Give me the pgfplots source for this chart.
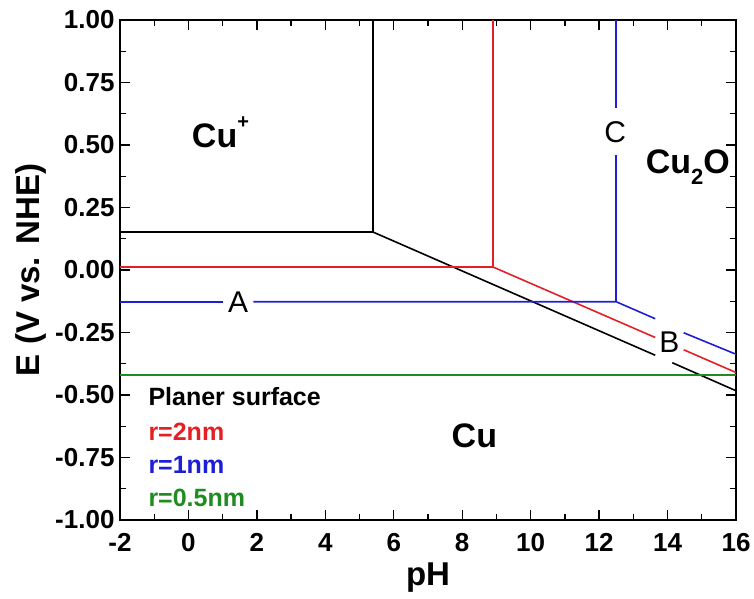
\documentclass[border=0pt]{standalone}
\usepackage{fontspec}
\setmainfont{Liberation Sans}
\usepackage{pgfplots}
\pgfplotsset{compat=1.18}

\definecolor{cred}{RGB}{228,32,36}
\definecolor{cblue}{RGB}{30,30,215}
\definecolor{cgreen}{RGB}{30,140,30}

\tikzset{
    region/.style = {font=\fontsize{34}{38}\selectfont\bfseries},
    mark lbl/.style = {font=\fontsize{30}{34}\selectfont},
    note/.style = {font=\fontsize{25}{29}\selectfont\bfseries, anchor=base west}
}

\begin{document}
\begin{tikzpicture}
\useasboundingbox (-120pt,-78pt) rectangle (634pt,520pt);
\begin{axis}[
    at={(0,0)}, anchor=south west,
    width=616pt, height=500pt, scale only axis,
    xmin=-2, xmax=16, ymin=-1, ymax=1,
    xtick={-2,0,2,4,6,8,10,12,14,16},
    xticklabels={-2,0,2,4,6,8,10,12,14,16},
    ytick={-1,-0.75,-0.5,-0.25,0,0.25,0.5,0.75,1},
    yticklabels={-1.00,-0.75,-0.50,-0.25,0.00,0.25,0.50,0.75,1.00},
    minor x tick num=1, minor y tick num=1,
    tick align=inside,
    major tick length=10pt, minor tick length=6pt,
    every tick/.style={black, line width=1.4pt},
    axis line style={line width=1.6pt},
    ticklabel style={font=\fontsize{26}{30}\selectfont\bfseries},
    xticklabel style={yshift=-10pt},
    yticklabel style={xshift=-2pt},
    xlabel={pH}, ylabel={E (V vs. NHE)},
    label style={font=\fontsize{33}{37}\selectfont\bfseries},
    xlabel style={at={(axis description cs:0.5,-0.116)}, anchor=center},
    ylabel style={at={(axis description cs:-0.145,0.5)}, anchor=center},
    every axis plot/.append style={line width=1.6pt},
    clip=true
]
% planar surface (black)
\addplot[black] coordinates {(-2,0.152) (5.39,0.152) (13.64,-0.341)};
\addplot[black] coordinates {(5.39,0.152) (5.39,1.0)};
\addplot[black] coordinates {(14.14,-0.371) (16,-0.483)};
% r = 2 nm (red)
\addplot[cred] coordinates {(-2,0.012) (8.9,0.012) (13.64,-0.270)};
\addplot[cred] coordinates {(8.9,0.012) (8.9,1.0)};
\addplot[cred] coordinates {(14.47,-0.319) (16,-0.410)};
% r = 1 nm (blue)
\addplot[cblue] coordinates {(-2,-0.127) (1.0,-0.127)};
\addplot[cblue] coordinates {(1.9,-0.127) (12.5,-0.127) (13.64,-0.195)};
\addplot[cblue] coordinates {(12.5,-0.127) (12.5,0.46)};
\addplot[cblue] coordinates {(12.5,0.648) (12.5,1.0)};
\addplot[cblue] coordinates {(14.47,-0.251) (16,-0.337)};
% r = 0.5 nm (green)
\addplot[cgreen] coordinates {(-2,-0.42) (16,-0.42)};

% region names
\node[region, anchor=base west] at (axis cs:0.0,0.49) {Cu\raisebox{0.55em}{\fontsize{20}{22}\selectfont +}};
\node[region, anchor=base west] at (axis cs:13.26,0.388) {Cu\raisebox{-0.35em}{\fontsize{22}{24}\selectfont 2}O};
\node[region, anchor=base west] at (axis cs:7.59,-0.708) {Cu};
% boundary letters
\node[mark lbl] at (axis cs:1.45,-0.127) {A};
\node[mark lbl] at (axis cs:14.05,-0.287) {B};
\node[mark lbl] at (axis cs:12.47,0.55) {C};
% key
\node[note, black] at (axis cs:-1.27,-0.54) {Planer surface};
\node[note, cred] at (axis cs:-1.27,-0.68) {r=2nm};
\node[note, cblue] at (axis cs:-1.27,-0.813) {r=1nm};
\node[note, cgreen] at (axis cs:-1.27,-0.947) {r=0.5nm};
\end{axis}
\end{tikzpicture}
\end{document}
